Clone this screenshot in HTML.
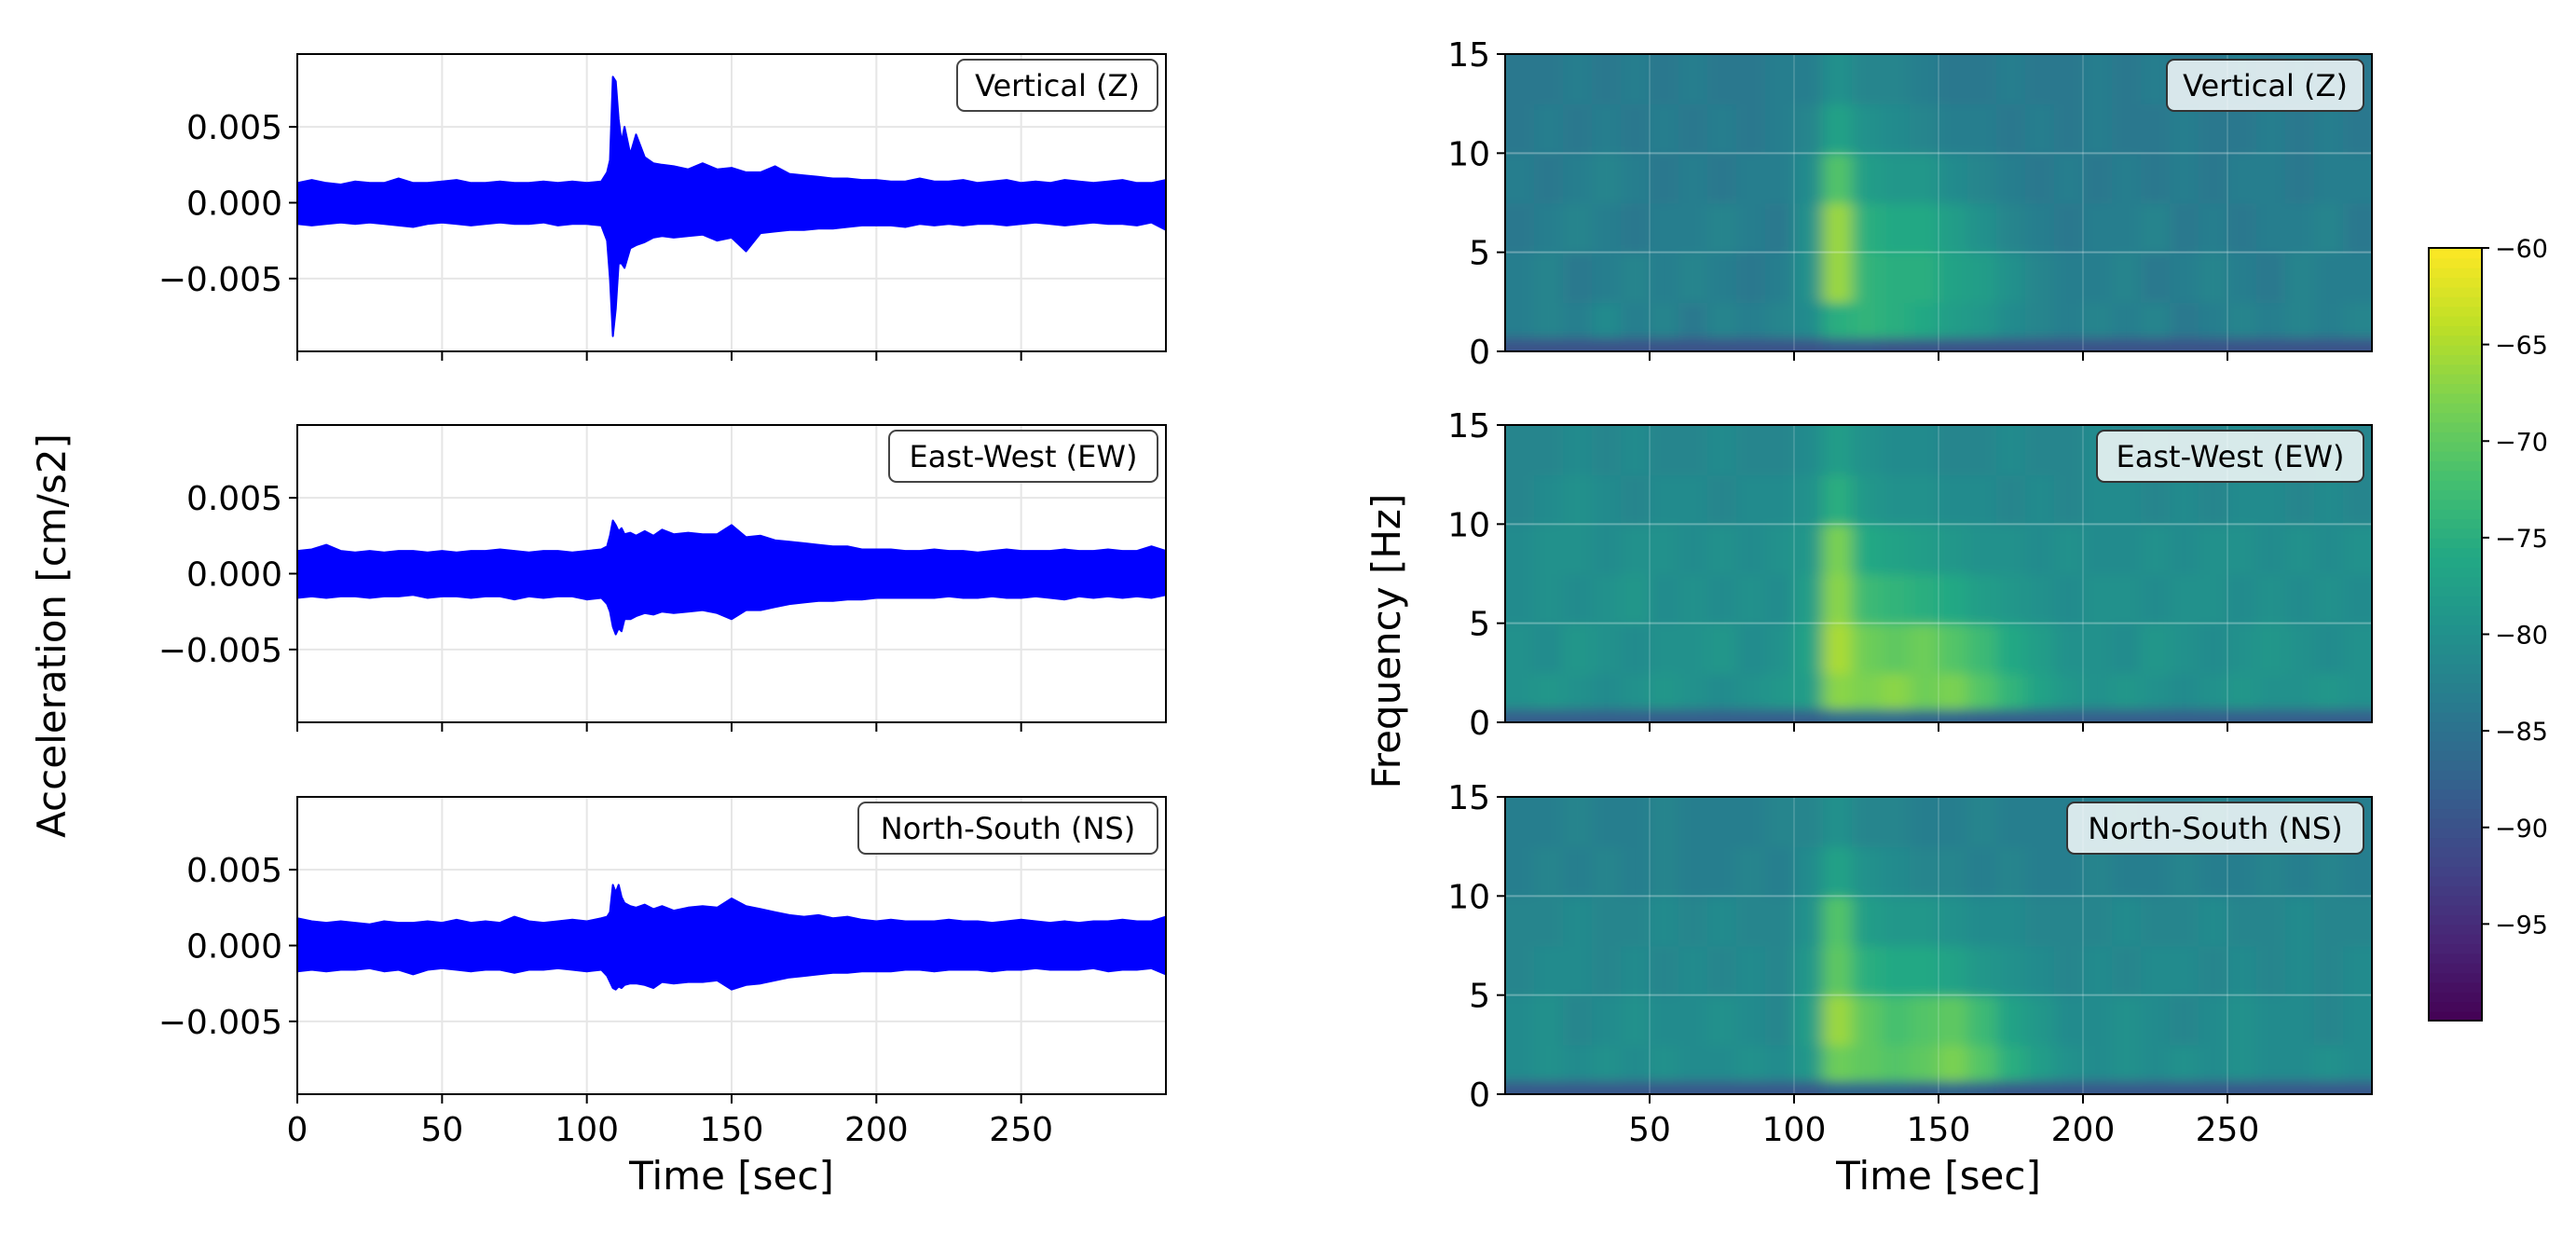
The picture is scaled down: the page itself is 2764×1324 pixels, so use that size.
<!DOCTYPE html>
<html><head><meta charset="utf-8"><style>
html,body{margin:0;padding:0;background:#fff;}
svg{display:block;font-family:"DejaVu Sans","Liberation Sans",sans-serif;}
</style></head><body>
<svg id="fig" width="2764" height="1324" viewBox="0 0 2764 1324" xmlns="http://www.w3.org/2000/svg">
<defs>
<filter id="blur" x="-5%" y="-5%" width="110%" height="110%"><feGaussianBlur stdDeviation="9 6"/></filter>
</defs>
<rect width="2764" height="1324" fill="#fff"/>
<g id="root"></g>
</svg>
<script>
// ---------- waveform data (units of 0.001 cm/s2) ----------
const times = [0,5,10,15,20,25,30,35,40,45,50,55,60,65,70,75,80,85,90,95,100,105,
 107,108,109,110,111,112,113,115,117,120,123,126,130,
 135,140,145,150,155,160,165,170,175,180,185,190,195,200,205,210,215,220,225,230,235,240,245,250,255,260,265,270,275,280,285,290,295,300];
const zUpper = [1.3,1.5,1.3,1.2,1.4,1.3,1.3,1.6,1.3,1.3,1.4,1.5,1.3,1.3,1.4,1.3,1.3,1.4,1.3,1.4,1.3,1.4,
 2.0,2.8,8.3,8.0,5.5,4.0,5.0,3.2,4.5,3.0,2.6,2.5,2.4,
 2.2,2.6,2.2,2.3,2.0,2.0,2.4,1.9,1.8,1.7,1.6,1.6,1.5,1.5,1.4,1.4,1.6,1.4,1.4,1.5,1.3,1.4,1.5,1.3,1.4,1.3,1.5,1.4,1.3,1.4,1.5,1.3,1.3,1.5];
const zLower = [-1.4,-1.5,-1.4,-1.3,-1.4,-1.3,-1.4,-1.5,-1.6,-1.4,-1.3,-1.4,-1.5,-1.4,-1.3,-1.4,-1.4,-1.3,-1.5,-1.4,-1.4,-1.5,
 -2.5,-5.0,-8.8,-7.0,-4.0,-4.0,-4.3,-3.0,-2.8,-2.6,-2.3,-2.2,-2.3,
 -2.2,-2.1,-2.5,-2.3,-3.2,-2.0,-1.9,-1.8,-1.8,-1.7,-1.7,-1.6,-1.5,-1.5,-1.5,-1.6,-1.4,-1.5,-1.4,-1.5,-1.4,-1.4,-1.5,-1.4,-1.3,-1.4,-1.5,-1.4,-1.3,-1.4,-1.4,-1.5,-1.3,-1.8];
const ewUpper = [1.5,1.6,1.9,1.5,1.4,1.5,1.4,1.5,1.5,1.4,1.5,1.4,1.5,1.5,1.6,1.5,1.4,1.5,1.5,1.4,1.5,1.6,
 1.8,2.5,3.5,3.2,2.8,3.0,2.6,2.7,2.5,2.8,2.5,2.9,2.6,
 2.7,2.6,2.6,3.2,2.4,2.5,2.2,2.1,2.0,1.9,1.8,1.8,1.6,1.6,1.6,1.5,1.5,1.6,1.5,1.5,1.4,1.5,1.6,1.5,1.5,1.5,1.6,1.5,1.5,1.6,1.5,1.5,1.8,1.5];
const ewLower = [-1.6,-1.5,-1.6,-1.5,-1.5,-1.6,-1.5,-1.5,-1.4,-1.6,-1.5,-1.5,-1.6,-1.5,-1.5,-1.7,-1.5,-1.6,-1.5,-1.5,-1.7,-1.6,
 -2.0,-2.5,-3.5,-4.0,-3.6,-3.8,-3.0,-3.0,-2.8,-2.6,-2.7,-2.5,-2.6,
 -2.5,-2.4,-2.6,-3.0,-2.4,-2.4,-2.2,-2.0,-1.9,-1.8,-1.8,-1.7,-1.7,-1.6,-1.6,-1.6,-1.6,-1.6,-1.5,-1.6,-1.6,-1.5,-1.6,-1.6,-1.5,-1.6,-1.7,-1.5,-1.6,-1.5,-1.6,-1.5,-1.6,-1.4];
const nsUpper = [1.8,1.6,1.5,1.6,1.5,1.4,1.6,1.5,1.5,1.6,1.5,1.7,1.5,1.6,1.5,1.9,1.6,1.5,1.6,1.7,1.6,1.8,
 1.9,2.2,4.0,3.5,4.0,3.2,2.8,2.6,2.5,2.7,2.4,2.6,2.3,
 2.5,2.6,2.5,3.1,2.6,2.4,2.2,2.0,1.9,2.0,1.8,1.9,1.7,1.6,1.7,1.6,1.6,1.6,1.7,1.6,1.6,1.5,1.6,1.7,1.6,1.5,1.6,1.5,1.6,1.6,1.7,1.6,1.6,1.9];
const nsLower = [-1.7,-1.6,-1.7,-1.6,-1.6,-1.5,-1.7,-1.6,-1.9,-1.6,-1.5,-1.6,-1.7,-1.6,-1.6,-1.8,-1.6,-1.6,-1.5,-1.6,-1.7,-1.6,
 -2.0,-2.4,-2.8,-2.9,-2.7,-2.8,-2.6,-2.5,-2.5,-2.6,-2.8,-2.4,-2.5,
 -2.4,-2.4,-2.3,-2.9,-2.6,-2.5,-2.3,-2.1,-2.0,-1.9,-1.8,-1.8,-1.7,-1.7,-1.7,-1.6,-1.6,-1.7,-1.6,-1.6,-1.6,-1.7,-1.6,-1.6,-1.5,-1.6,-1.6,-1.6,-1.5,-1.7,-1.6,-1.6,-1.5,-1.9];
const xTicks = [0,50,100,150,200,250];
const yTickVals = [0.005,0,-0.005];
const yTickLabels = ["0.005","0.000","\u22120.005"];
const componentNames = ["Vertical (Z)","East-West (EW)","North-South (NS)"];

// ---------- spectrogram data (dB), rows low->high freq, columns 10 s each ----------
const specTimeEdges = [0,10,20,30,40,50,60,70,80,90,100,110,120,130,140,150,160,170,180,190,200,210,220,230,240,250,260,270,280,290,300];
const specFreqEdges = [0,0.7,2.5,5,7.5,10,12.5,15];
const specZ = [
 [-90,-90,-90,-90,-90,-90,-90,-90,-90,-90,-90,-89,-89,-90,-90,-90,-90,-90,-90,-90,-90,-90,-90,-90,-90,-90,-90,-90,-90,-90],
 [-83,-82,-83,-81,-83,-82,-84,-82,-83,-82,-81,-75,-74,-75,-76,-78,-79,-81,-82,-83,-82,-83,-82,-84,-83,-82,-83,-82,-83,-82],
 [-83,-82,-84,-83,-82,-83,-82,-83,-84,-83,-80,-66,-74,-75,-75,-77,-78,-80,-82,-83,-83,-82,-84,-83,-82,-83,-84,-82,-83,-83],
 [-84,-83,-82,-83,-84,-83,-83,-82,-83,-84,-80,-66,-75,-76,-76,-78,-80,-82,-83,-84,-83,-83,-82,-84,-83,-84,-83,-83,-82,-84],
 [-83,-84,-83,-82,-83,-84,-83,-84,-83,-83,-81,-71,-78,-79,-79,-81,-82,-83,-84,-83,-84,-83,-84,-83,-84,-83,-83,-84,-83,-83],
 [-84,-83,-84,-83,-84,-83,-84,-83,-84,-83,-82,-77,-80,-81,-82,-83,-83,-84,-83,-84,-83,-84,-84,-83,-84,-84,-83,-84,-83,-84],
 [-84,-84,-83,-84,-83,-84,-83,-84,-84,-83,-83,-80,-82,-82,-83,-84,-84,-83,-84,-84,-83,-84,-83,-84,-84,-83,-84,-83,-84,-84]];
const specEW = [
 [-88,-88,-88,-88,-88,-88,-88,-88,-88,-88,-88,-86,-86,-86,-87,-87,-88,-88,-88,-88,-88,-88,-88,-88,-88,-88,-88,-88,-88,-88],
 [-80,-79,-80,-81,-80,-79,-80,-81,-80,-79,-78,-67,-68,-67,-69,-68,-71,-74,-77,-79,-80,-79,-80,-81,-80,-79,-80,-80,-79,-80],
 [-80,-81,-79,-80,-81,-80,-80,-79,-81,-80,-77,-65,-69,-70,-69,-71,-73,-76,-78,-80,-80,-81,-79,-80,-81,-80,-79,-80,-81,-80],
 [-81,-80,-81,-80,-79,-81,-80,-81,-80,-81,-78,-67,-73,-74,-75,-76,-78,-79,-80,-81,-80,-80,-81,-80,-80,-81,-80,-81,-80,-81],
 [-81,-80,-80,-81,-80,-80,-81,-80,-81,-80,-79,-68,-76,-77,-78,-79,-80,-80,-81,-80,-81,-81,-80,-81,-80,-80,-81,-80,-81,-80],
 [-82,-81,-80,-81,-82,-81,-81,-82,-81,-81,-80,-75,-79,-80,-80,-81,-81,-82,-81,-82,-81,-81,-82,-81,-82,-81,-81,-82,-81,-82],
 [-82,-82,-81,-82,-81,-82,-82,-81,-82,-82,-81,-78,-80,-81,-81,-82,-82,-81,-82,-82,-81,-82,-81,-82,-82,-81,-82,-82,-81,-82]];
const specNS = [
 [-89,-89,-89,-89,-89,-89,-89,-89,-89,-89,-89,-87,-87,-87,-88,-87,-88,-89,-89,-89,-89,-89,-89,-89,-89,-89,-89,-89,-89,-89],
 [-81,-80,-81,-80,-81,-80,-81,-81,-80,-81,-79,-69,-70,-71,-70,-68,-71,-75,-78,-80,-81,-80,-81,-80,-81,-80,-81,-81,-80,-81],
 [-81,-80,-82,-81,-80,-81,-81,-80,-81,-82,-78,-66,-70,-72,-71,-70,-73,-77,-79,-81,-81,-80,-81,-82,-81,-80,-81,-81,-82,-81],
 [-82,-81,-81,-82,-81,-82,-81,-82,-81,-82,-79,-70,-75,-76,-76,-77,-79,-80,-81,-82,-81,-82,-81,-81,-82,-81,-82,-81,-82,-81],
 [-82,-82,-81,-82,-82,-81,-82,-81,-82,-82,-80,-71,-78,-79,-79,-80,-81,-81,-82,-82,-82,-81,-82,-82,-81,-82,-82,-81,-82,-82],
 [-83,-82,-83,-82,-83,-82,-83,-83,-82,-83,-81,-77,-80,-81,-82,-82,-83,-82,-83,-83,-82,-83,-83,-82,-83,-83,-82,-83,-82,-83],
 [-83,-83,-82,-83,-83,-82,-83,-83,-83,-82,-82,-80,-82,-82,-83,-83,-82,-83,-83,-83,-83,-82,-83,-83,-82,-83,-83,-82,-83,-83]];
const specXTicks = [50,100,150,200,250];
const specYTicks = [0,5,10,15];
const cbarTicks = [-60,-65,-70,-75,-80,-85,-90,-95];

// ---------- layout ----------
const NS = "http://www.w3.org/2000/svg";
const root = document.getElementById('root');
const panelTops = [58,456,855], panelH = 319;
const L = {x0:319, x1:1251}, R = {x0:1615, x1:2545};
const YLIM = 0.0098, CMIN = -100, CMAX = -60;
function mk(tag, attrs, parent){const e=document.createElementNS(NS,tag);for(const k in attrs)e.setAttribute(k,attrs[k]);(parent||root).appendChild(e);return e;}
const VIR = ["#440154","#482475","#414487","#355f8d","#2a788e","#21918c","#22a884","#44bf70","#7ad151","#bddf26","#fde725"].map(h=>[parseInt(h.slice(1,3),16),parseInt(h.slice(3,5),16),parseInt(h.slice(5,7),16)]);
function viridis(v){let t=(v-CMIN)/(CMAX-CMIN);t=Math.max(0,Math.min(1,t))*(VIR.length-1);const i=Math.min(VIR.length-2,Math.floor(t)),f=t-i;const a=VIR[i],b=VIR[i+1];return `rgb(${Math.round(a[0]+(b[0]-a[0])*f)},${Math.round(a[1]+(b[1]-a[1])*f)},${Math.round(a[2]+(b[2]-a[2])*f)})`;}

const waves = [[zUpper,zLower],[ewUpper,ewLower],[nsUpper,nsLower]];
const specs = [specZ,specEW,specNS];
const legW = [[215,211],[288,286],[321,318]];

for(let p=0;p<3;p++){
  const top = panelTops[p], bot = top+panelH;
  const xs = t => L.x0 + (t/300)*(L.x1-L.x0);
  const ys = v => top + panelH/2 - (v/YLIM)*(panelH/2);
  const g = mk('g',{});
  
  
  for(const t of xTicks){const gl=mk('line',{x1:xs(t),x2:xs(t),y1:top,y2:bot,stroke:'#e6e6e6','stroke-width':2},g);}
  yTickVals.forEach((v,i)=>{
    const gl=mk('line',{x1:L.x0,x2:L.x1,y1:ys(v),y2:ys(v),stroke:'#e6e6e6','stroke-width':2},g);
    
    mk('line',{x1:L.x0-9,x2:L.x0,y1:ys(v),y2:ys(v),stroke:'#000','stroke-width':2},g);
    const tl=mk('text',{x:L.x0-16,y:ys(v)+13,'text-anchor':'end','font-size':36,fill:'#000'},g);tl.textContent=yTickLabels[i];
    
  });
  const up=waves[p][0], lo=waves[p][1];
  const n=Math.min(times.length,up.length,lo.length);
  let d='';
  for(let i=0;i<n;i++) d+=(i?'L':'M')+xs(times[i]).toFixed(1)+','+ys(up[i]/1000).toFixed(1);
  for(let i=n-1;i>=0;i--) d+='L'+xs(times[i]).toFixed(1)+','+ys(lo[i]/1000).toFixed(1);
  const wf=mk('path',{d:d+'Z',fill:'#0000ff',stroke:'#0000ff','stroke-width':2,'stroke-linejoin':'round'},g);
  
  mk('rect',{x:L.x0,y:top,width:L.x1-L.x0,height:panelH,fill:'none',stroke:'#000','stroke-width':2},g);
  for(const t of xTicks){mk('line',{x1:xs(t),x2:xs(t),y1:bot,y2:bot+10,stroke:'#000','stroke-width':2},g);
    if(p===2){const tl=mk('text',{x:xs(t),y:bot+50,'text-anchor':'middle','font-size':36},g);tl.textContent=t;
      }}
  const lw=legW[p][0];
  const lb=mk('rect',{x:L.x1-9-lw,y:top+6,width:lw,height:55,rx:8,fill:'#fff',stroke:'#444','stroke-width':2},g);
  
  const lt=mk('text',{x:L.x1-9-lw/2,y:top+45,'text-anchor':'middle','font-size':32},g);lt.textContent=componentNames[p];
  

  const sx = t => R.x0 + (t/300)*(R.x1-R.x0);
  const sy = f => bot - (f/15)*panelH;
  const sg = mk('g',{});
  
  
  const cp=mk('clipPath',{id:'cp'+p},sg);mk('rect',{x:R.x0,y:top,width:R.x1-R.x0,height:panelH},cp);
  const cells=mk('g',{'clip-path':`url(#cp${p})`},sg);
  const inner=mk('g',{filter:'url(#blur)'},cells);
  const M=specs[p];
  for(let r=0;r<M.length;r++)for(let c=0;c<M[r].length;c++){
    const x0=sx(specTimeEdges[c]),x1=sx(specTimeEdges[c+1]),y0=sy(specFreqEdges[r+1]),y1=sy(specFreqEdges[r]);
    const ext = (c===0?-20:0), ext2=(c===M[r].length-1?20:0), ey=(r===M.length-1?-20:0), ey2=(r===0?20:0);
    const cell=mk('rect',{x:x0+ext,y:y0+ey,width:x1-x0+1-ext+ext2,height:y1-y0+1-ey+ey2,fill:viridis(M[r][c])},inner);
    
  }
  for(const f of [5,10]) mk('line',{x1:R.x0,x2:R.x1,y1:sy(f),y2:sy(f),stroke:'rgba(255,255,255,0.3)','stroke-width':2},sg);
  for(const t of specXTicks) mk('line',{x1:sx(t),x2:sx(t),y1:top,y2:bot,stroke:'rgba(255,255,255,0.15)','stroke-width':2},sg);
  mk('rect',{x:R.x0,y:top,width:R.x1-R.x0,height:panelH,fill:'none',stroke:'#000','stroke-width':2},sg);
  for(const f of specYTicks){mk('line',{x1:R.x0-9,x2:R.x0,y1:sy(f),y2:sy(f),stroke:'#000','stroke-width':2},sg);
    const tl=mk('text',{x:R.x0-16,y:sy(f)+13,'text-anchor':'end','font-size':36},sg);tl.textContent=f;
    }
  for(const t of specXTicks){mk('line',{x1:sx(t),x2:sx(t),y1:bot,y2:bot+10,stroke:'#000','stroke-width':2},sg);
    if(p===2){const tl=mk('text',{x:sx(t),y:bot+50,'text-anchor':'middle','font-size':36},sg);tl.textContent=t;
      }}
  const rw=legW[p][1];
  const rb=mk('rect',{x:R.x1-9-rw,y:top+6,width:rw,height:55,rx:8,fill:'rgba(255,255,255,0.82)',stroke:'#333','stroke-width':2},sg);
  
  const rt=mk('text',{x:R.x1-9-rw/2,y:top+45,'text-anchor':'middle','font-size':32},sg);rt.textContent=componentNames[p];
  
}

let t1=mk('text',{x:L.x0+(L.x1-L.x0)/2,y:1276,'text-anchor':'middle','font-size':42});t1.textContent='Time [sec]';

let t2=mk('text',{x:R.x0+(R.x1-R.x0)/2,y:1276,'text-anchor':'middle','font-size':42});t2.textContent='Time [sec]';

let t3=mk('text',{x:0,y:0,'text-anchor':'middle','font-size':42,transform:'translate(70,682) rotate(-90)'});t3.textContent='Acceleration [cm/s2]';

let t4=mk('text',{x:0,y:0,'text-anchor':'middle','font-size':42,transform:'translate(1502,688) rotate(-90)'});t4.textContent='Frequency [Hz]';


const CB={x:2606,w:57,y0:266,y1:1095};
const cg=mk('g',{});


const steps=80;
for(let i=0;i<steps;i++){
  const v0=CMIN+(CMAX-CMIN)*i/steps;
  const ya=CB.y1-(CB.y1-CB.y0)*(i+1)/steps;
  mk('rect',{x:CB.x,y:ya,width:CB.w,height:(CB.y1-CB.y0)/steps+1,fill:viridis(v0+(CMAX-CMIN)/steps/2)},cg);
}
mk('rect',{x:CB.x,y:CB.y0,width:CB.w,height:CB.y1-CB.y0,fill:'none',stroke:'#000','stroke-width':2},cg);
const cy=v=>CB.y1-(v-CMIN)/(CMAX-CMIN)*(CB.y1-CB.y0);
for(const v of cbarTicks){
  mk('line',{x1:CB.x+CB.w,x2:CB.x+CB.w+8,y1:cy(v),y2:cy(v),stroke:'#000','stroke-width':2},cg);
  const tl=mk('text',{x:CB.x+CB.w+14,y:cy(v)+10,'font-size':27},cg);tl.textContent='\u2212'+Math.abs(v);
  
}
</script>
</body></html>
